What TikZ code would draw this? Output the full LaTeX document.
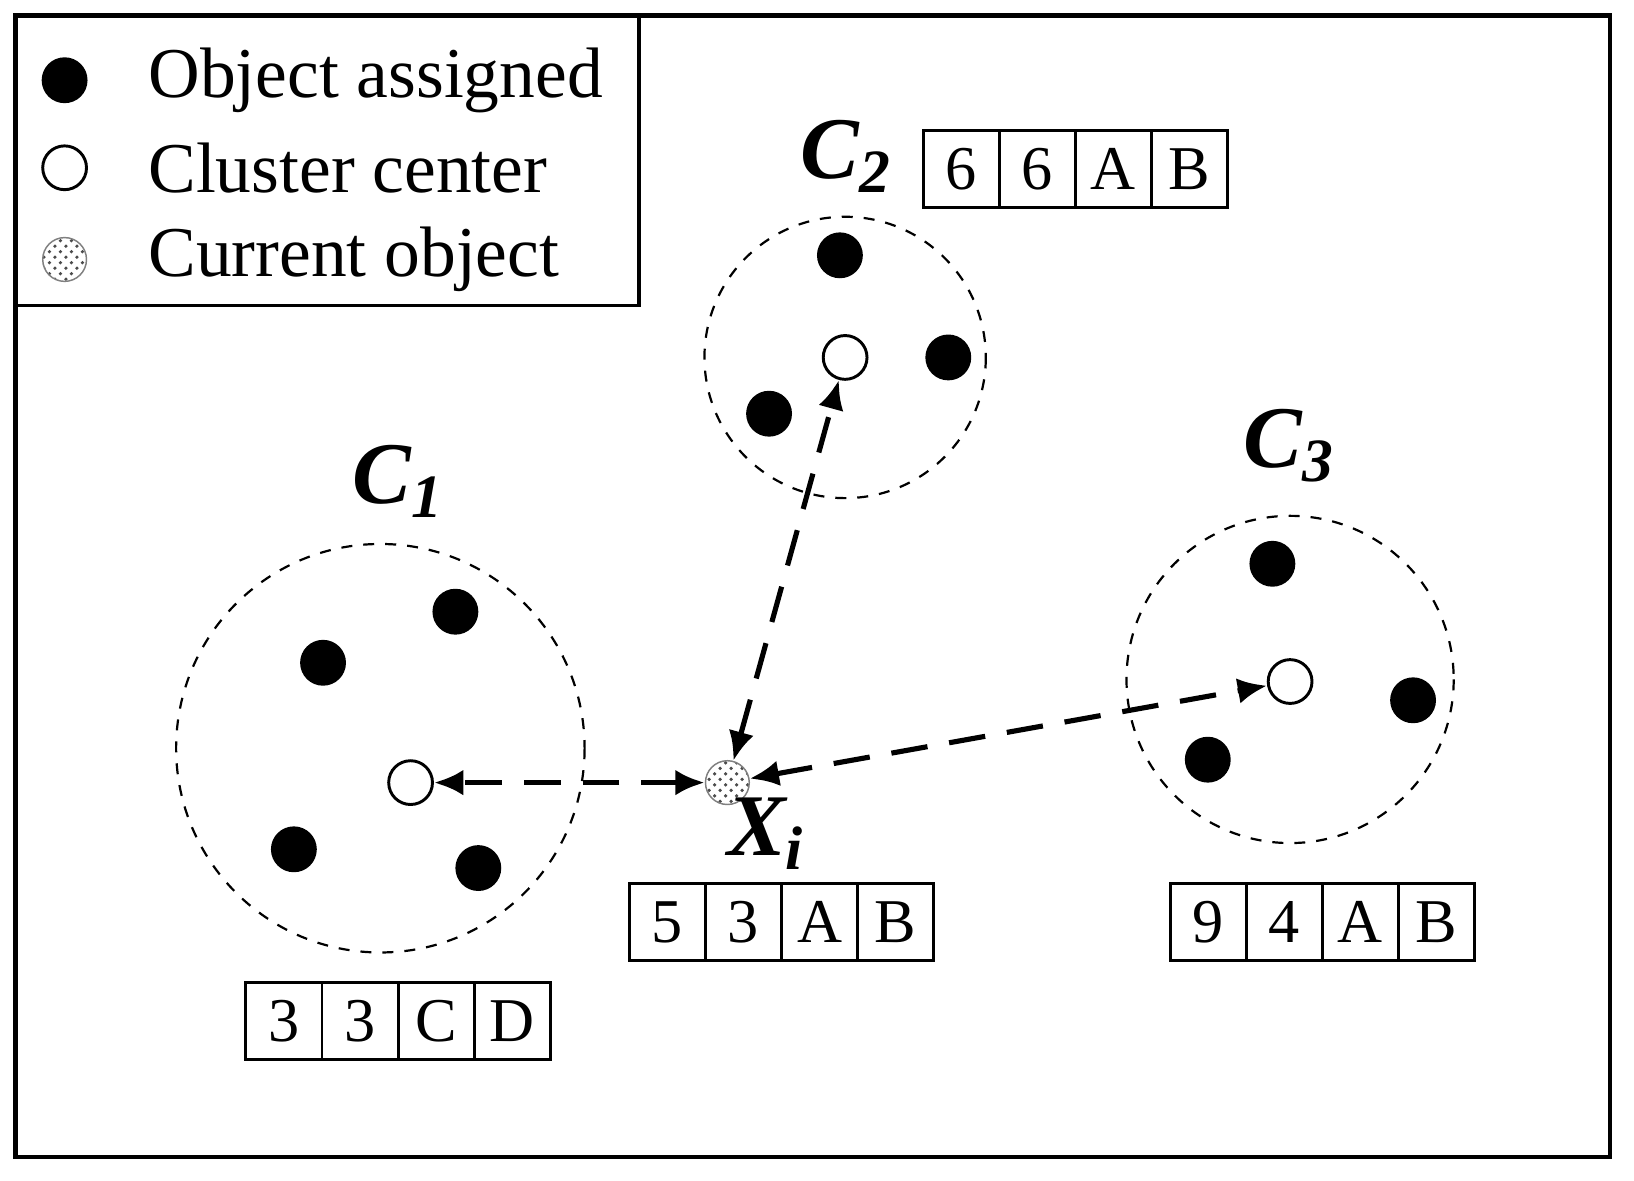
\documentclass[tikz,border=0pt]{standalone}
\usepackage{fontspec}
\setmainfont{Liberation Serif}
\usetikzlibrary{patterns,arrows.meta}
\tikzset{
  obj/.style={circle, fill=black, minimum size=0.44cm, inner sep=0},
  center/.style={circle, draw, fill=white, minimum size=0.42cm, inner sep=0, line width=0.8pt},
  current/.style={circle, draw=gray, pattern=crosshatch dots, pattern color=black!70, minimum size=0.42cm, inner sep=0},
  cluster/.style={draw, dashed, line width=0.6pt},
  cell/.style={draw, line width=0.8pt, minimum width=0.73cm, minimum height=0.74cm, inner sep=0, font=\fontsize{17}{17}\selectfont},
  lbl/.style={font=\fontsize{24}{24}\selectfont\bfseries\itshape},
  dist/.style={line width=1.4pt, dash pattern=on 10pt off 6pt, {Latex[length=8pt,width=7pt]}-{Latex[length=8pt,width=7pt]}}
}
\begin{document}
\begin{tikzpicture}[x=0.01cm, y=-0.01cm]
    \useasboundingbox (0,0) rectangle (1568,1133);
    % Frame and legend
    \draw[line width=1.2pt] (15,15) rectangle (1545,1110);
    \draw[line width=1pt] (15,15) rectangle (613,293);
    \node[obj] (lgA) at (62,77) {};
    \node[center] (lgC) at (62,161) {};
    \node[current] (lgX) at (62,249) {};
    \node[anchor=west, font=\fontsize{19.5}{20}\selectfont] at (130,77) {Object assigned};
    \node[anchor=west, font=\fontsize{19.5}{20}\selectfont] at (130,161) {Cluster center};
    \node[anchor=west, font=\fontsize{19.5}{20}\selectfont] at (130,249) {Current object};

    % Cluster C1
    \draw[cluster] (365,718) circle (196);
    \node[center] (c1) at (394,751) {};
    \foreach \p/\q in {437/587, 310/636, 282/815, 459/833}
        \node[obj] at (\p,\q) {};
    \node[lbl] at (382,462) {C\textsubscript{1}};

    % Cluster C2
    \draw[cluster] (811,343) circle (135);
    \node[center] (c2) at (811,343) {};
    \foreach \p/\q in {806/245, 910/343, 738/397}
        \node[obj] at (\p,\q) {};
    \node[lbl] at (812,150) {C\textsubscript{2}};

    % Cluster C3
    \draw[cluster] (1238,652) circle (157);
    \node[center] (c3) at (1238,654) {};
    \foreach \p/\q in {1221/541, 1356/672, 1159/729}
        \node[obj] at (\p,\q) {};
    \node[lbl] at (1237,428) {C\textsubscript{3}};

    % Current object
    \node[current] (xi) at (698,751) {};
    \node[lbl] at (735,800) {X\textsubscript{i}};

    % Distances
    \draw[dist] (xi) -- (c1);
    \draw[dist] (xi) -- (c2);
    \draw[dist] (xi) -- (c3);

    % Attribute cells
    \foreach \v [count=\k] in {3,3,C,D}
        \node[cell] (a\k) at (236+73*\k-36.5,980) {\v};
    \foreach \v [count=\k] in {6,6,A,B}
        \node[cell] (b\k) at (886+73*\k-36.5,162) {\v};
    \foreach \v [count=\k] in {5,3,A,B}
        \node[cell] (x\k) at (604+73*\k-36.5,885) {\v};
    \foreach \v [count=\k] in {9,4,A,B}
        \node[cell] (d\k) at (1123+73*\k-36.5,885) {\v};
\end{tikzpicture}
\end{document}
